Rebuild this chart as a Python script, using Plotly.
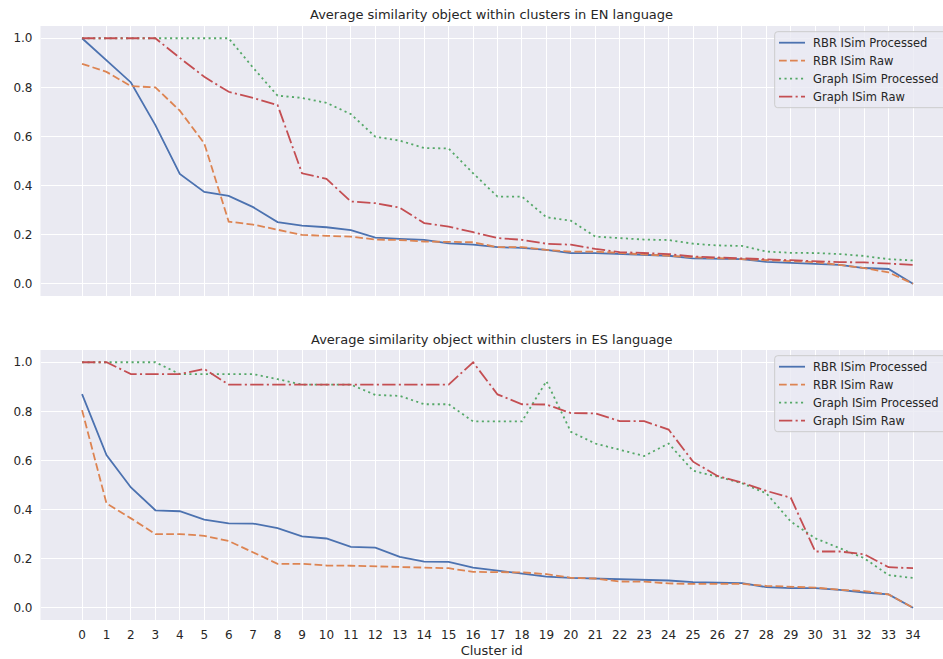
import plotly.graph_objects as go

cluster_ids = list(range(35))

# EN language
en_rbr_processed = [1.0, 0.91, 0.82, 0.646, 0.447, 0.374, 0.358, 0.312, 0.251, 0.237, 0.230, 0.218,
                    0.188, 0.183, 0.179, 0.164, 0.159, 0.149, 0.146, 0.138, 0.125, 0.125, 0.121,
                    0.115, 0.114, 0.103, 0.103, 0.100, 0.089, 0.085, 0.083, 0.077, 0.064, 0.060, 0.0]
en_rbr_raw = [0.896, 0.863, 0.805, 0.800, 0.705, 0.572, 0.253, 0.241, 0.220, 0.199, 0.195, 0.192,
              0.180, 0.178, 0.172, 0.172, 0.169, 0.149, 0.149, 0.138, 0.131, 0.131, 0.125,
              0.118, 0.113, 0.108, 0.104, 0.100, 0.095, 0.091, 0.088, 0.077, 0.064, 0.046, 0.0]
en_graph_processed = [1.0, 1.0, 1.0, 1.0, 1.0, 1.0, 1.0, 0.88, 0.766, 0.757, 0.737, 0.691,
                      0.599, 0.583, 0.553, 0.551, 0.45, 0.355, 0.355, 0.271, 0.257, 0.192, 0.186,
                      0.180, 0.178, 0.163, 0.156, 0.154, 0.131, 0.126, 0.125, 0.121, 0.113, 0.100, 0.095]
en_graph_raw = [1.0, 1.0, 1.0, 1.0, 0.92, 0.843, 0.782, 0.757, 0.728, 0.45, 0.427, 0.335,
                0.328, 0.310, 0.247, 0.233, 0.21, 0.186, 0.179, 0.163, 0.159, 0.142, 0.129,
                0.125, 0.121, 0.111, 0.107, 0.104, 0.100, 0.098, 0.094, 0.088, 0.087, 0.081, 0.077]

# ES language
es_rbr_processed = [0.87, 0.622, 0.49, 0.397, 0.393, 0.359, 0.344, 0.343, 0.324, 0.291, 0.282, 0.248,
                    0.245, 0.207, 0.188, 0.187, 0.163, 0.150, 0.137, 0.127, 0.122, 0.119, 0.114,
                    0.114, 0.111, 0.104, 0.103, 0.100, 0.084, 0.080, 0.080, 0.073, 0.062, 0.054, 0.0]
es_rbr_raw = [0.805, 0.425, 0.364, 0.300, 0.300, 0.293, 0.272, 0.226, 0.179, 0.179, 0.172, 0.171,
              0.169, 0.168, 0.165, 0.161, 0.146, 0.144, 0.144, 0.137, 0.122, 0.119, 0.107,
              0.106, 0.099, 0.097, 0.097, 0.097, 0.089, 0.086, 0.082, 0.073, 0.068, 0.054, 0.0]
es_graph_processed = [1.0, 1.0, 1.0, 1.0, 0.952, 0.952, 0.952, 0.952, 0.931, 0.909, 0.909, 0.909,
                      0.867, 0.863, 0.829, 0.829, 0.759, 0.759, 0.759, 0.923, 0.717, 0.669, 0.645,
                      0.618, 0.669, 0.558, 0.534, 0.507, 0.466, 0.351, 0.283, 0.243, 0.202, 0.133, 0.121]
es_graph_raw = [1.0, 1.0, 0.952, 0.952, 0.952, 0.973, 0.909, 0.909, 0.909, 0.909, 0.909, 0.909,
                0.909, 0.909, 0.909, 0.909, 1.0, 0.869, 0.829, 0.828, 0.793, 0.792, 0.760,
                0.760, 0.726, 0.595, 0.537, 0.510, 0.476, 0.448, 0.229, 0.229, 0.218, 0.165, 0.161]

series_names = ["RBR ISim Processed", "RBR ISim Raw", "Graph ISim Processed", "Graph ISim Raw"]
colors = ["#4C72B0", "#DD8452", "#55A868", "#C44E52"]
dashes = ["solid", "7.7px,3.3px", "2.1px,3.4px", "13.3px,3.3px,2.1px,3.3px"]
y_ticks = [0.0, 0.2, 0.4, 0.6, 0.8, 1.0]
titles = ["Average similarity object within clusters in EN language",
          "Average similarity object within clusters in ES language"]
x_title = "Cluster id"

W, H = 943, 659
FONT = "DejaVu Sans"
TXT = "#262626"
BG = "#EAEAF2"
LW = 1.8

def px(x):
    return x / W

def py(y):
    return (H - y) / H

fig = go.Figure()

panels = [
    (en_rbr_processed, en_rbr_raw, en_graph_processed, en_graph_raw),
    (es_rbr_processed, es_rbr_raw, es_graph_processed, es_graph_raw),
]
panel_px = [(26, 296), (350, 620)]
title_px = [15, 339]
legend_top_px = [31.7, 355.7]
x_left_px = 40.5

for p, data in enumerate(panels):
    xa = "x" if p == 0 else "x2"
    ya = "y" if p == 0 else "y2"
    for name, vals, c, d in zip(series_names, data, colors, dashes):
        fig.add_trace(go.Scatter(
            x=cluster_ids, y=vals, mode="lines", name=name,
            line=dict(color=c, dash=d, width=LW),
            xaxis=xa, yaxis=ya, showlegend=False,
        ))

axis_common = dict(
    showgrid=True, gridcolor="white", gridwidth=1, zeroline=False,
    showline=False, ticks="", automargin=False,
    tickfont=dict(family=FONT, size=12, color=TXT),
)

x_range = [-1.7, -1.7 + (W - x_left_px) / 24.44]

# manual legends (matplotlib-like, box runs off the right page edge)
shapes = []
annotations = []
for p in range(2):
    top = legend_top_px[p]
    bot = top + 76
    x0, x1, r = 774.7, 975.0, 3
    path = (f"M {px(x0 + r)},{py(top)} L {px(x1)},{py(top)} L {px(x1)},{py(bot)} "
            f"L {px(x0 + r)},{py(bot)} Q {px(x0)},{py(bot)} {px(x0)},{py(bot - r)} "
            f"L {px(x0)},{py(top + r)} Q {px(x0)},{py(top)} {px(x0 + r)},{py(top)} Z")
    shapes.append(dict(type="path", path=path, xref="paper", yref="paper",
                       fillcolor="rgba(234,234,242,0.8)", line=dict(color="#CCCCCC", width=1),
                       layer="above"))
    for i, (name, c, d) in enumerate(zip(series_names, colors, dashes)):
        yc = top + 11 + i * 18
        shapes.append(dict(type="line", xref="paper", yref="paper",
                           x0=px(779), x1=px(805), y0=py(yc), y1=py(yc),
                           line=dict(color=c, dash=d, width=LW), layer="above"))
        annotations.append(dict(text=name, x=px(811), y=py(yc), xref="paper", yref="paper",
                                showarrow=False, xanchor="left", yanchor="middle",
                                font=dict(family=FONT, size=11.5, color=TXT)))
    annotations.append(dict(text=titles[p], x=(x_left_px + W) / 2 / W, y=py(title_px[p]),
                            xref="paper", yref="paper", showarrow=False,
                            font=dict(family=FONT, size=13, color=TXT),
                            xanchor="center", yanchor="middle"))

fig.update_layout(
    width=W, height=H,
    margin=dict(l=0, r=0, t=0, b=0),
    paper_bgcolor="white", plot_bgcolor=BG,
    font=dict(family=FONT, color=TXT),
    showlegend=False,
    xaxis=dict(domain=[px(x_left_px), 1.0], range=x_range, anchor="y",
               tickvals=cluster_ids, showticklabels=False, **axis_common),
    yaxis=dict(domain=[py(panel_px[0][1]), py(panel_px[0][0])], range=[-0.05, 1.05], anchor="x",
               tickvals=y_ticks, tickformat=".1f", ticklabelstandoff=7, **axis_common),
    xaxis2=dict(domain=[px(x_left_px), 1.0], range=x_range, anchor="y2",
                tickvals=cluster_ids, ticklabelstandoff=6,
                title=dict(text=x_title, font=dict(family=FONT, size=13, color=TXT), standoff=4),
                **axis_common),
    yaxis2=dict(domain=[py(panel_px[1][1]), py(panel_px[1][0])], range=[-0.05, 1.05], anchor="x2",
                tickvals=y_ticks, tickformat=".1f", ticklabelstandoff=7, **axis_common),
    shapes=shapes,
    annotations=annotations,
)

fig.write_html("out.html")
